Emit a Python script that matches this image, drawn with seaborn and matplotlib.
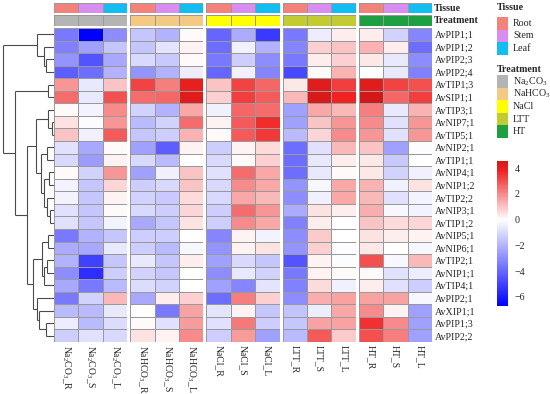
import numpy as np
import pandas as pd
import matplotlib
matplotlib.use("Agg")
import matplotlib.pyplot as plt
import matplotlib.colors as mcolors
from matplotlib.patches import Rectangle
import seaborn as sns

sns.set_theme(style="white")
plt.rcParams['font.family'] = ['Liberation Serif', 'DejaVu Serif']
plt.rcParams['mathtext.fontset'] = 'custom'
plt.rcParams['mathtext.rm'] = 'Liberation Serif'
plt.rcParams['mathtext.it'] = 'Liberation Serif:italic'

# ---- data ----
genes = ['AvPIP1;1', 'AvPIP1;2', 'AvPIP2;3', 'AvPIP2;4', 'AvTIP1;3', 'AvSIP1;1',
         'AvTIP3;1', 'AvNIP7;1', 'AvTIP5;1', 'AvNIP2;1', 'AvTIP1;1', 'AvNIP4;1',
         'AvNIP1;2', 'AvTIP2;2', 'AvNIP3;1', 'AvTIP1;2', 'AvNIP5;1', 'AvNIP6;1',
         'AvTIP2;1', 'AvNIP1;1', 'AvTIP4;1', 'AvPIP2;1', 'AvXIP1;1', 'AvPIP1;3',
         'AvPIP2;2']
tissues = ['Root', 'Stem', 'Leaf']
tissue_short = ['R', 'S', 'L']
treatments = ['Na$_2$CO$_3$', 'NaHCO$_3$', 'NaCl', 'LTT', 'HT']

# log2 fold change, columns R / S / L
na2co3 = [[-3.5, -6.7, -3.0], [-3.3, -2.5, -1.5], [-2.8, -4.5, -2.3], [-4.2, -3.8, -2.0],
          [1.8, -0.6, 1.0], [2.5, -0.6, 3.0], [0.1, -0.3, 2.0], [0.5, -0.1, 1.8],
          [1.0, -0.4, 2.8], [-0.8, -2.3, 0.1], [-1.0, -2.6, 0.2], [0.1, -1.2, 1.8],
          [-0.3, -1.5, 0.7], [-0.3, -1.5, 0.2], [-0.8, -1.5, 0.1], [-0.8, -1.5, -0.3],
          [-3.5, -2.0, -1.5], [-2.2, -2.3, -0.6], [-2.0, -5.0, -1.5], [-3.0, -5.5, -1.3],
          [-2.3, -3.5, -1.8], [-3.5, -1.2, 1.2], [-1.8, -1.8, -0.6], [-0.5, -1.8, -0.9],
          [-1.3, -0.8, -1.0]]
nahco3 = [[-1.5, -2.0, 0.1], [-1.5, -0.7, 0.2], [-1.0, -1.4, 0.1], [-2.8, -2.0, -0.5],
          [3.2, 2.2, 4.0], [2.5, 2.6, 4.2], [-1.2, -2.0, 1.5], [-1.8, -1.2, 2.5],
          [-1.5, -1.3, 1.3], [-2.5, -4.2, 0.2], [-1.0, -1.8, 0.0], [-2.5, -0.4, 1.0],
          [-1.3, -1.0, 1.0], [-1.2, -1.4, 0.6], [-1.0, -1.3, 0.7], [-2.3, -1.5, 0.5],
          [-1.3, -1.3, 0.0], [-1.3, -1.8, -0.2], [-0.6, -1.5, 0.3], [-1.2, -1.5, 0.0],
          [-0.9, -1.2, 0.0], [-2.3, 0.3, 0.8], [0.0, -3.5, 1.6], [0.1, -0.8, 1.7],
          [0.5, 0.2, 2.0]]
nacl = [[-4.0, -2.2, -5.2], [-3.8, -0.4, -2.0], [-3.5, -1.3, -3.0], [-4.0, -0.4, -3.2],
        [1.0, 3.2, 2.6], [0.8, 3.3, 2.8], [-0.4, 2.6, 2.5], [0.2, 2.8, 3.6],
        [0.1, 2.8, 3.4], [-1.3, 0.2, 0.6], [-1.0, 0.1, 0.8], [-0.8, 2.5, 1.5],
        [-1.0, 2.0, 1.5], [-1.0, 1.5, 1.2], [-1.3, 2.5, 1.8], [-1.3, 2.0, 1.5],
        [-3.2, 0.2, -0.3], [-2.8, 0.2, 0.5], [-2.5, -1.0, -1.5], [-3.0, -0.6, -1.2],
        [-2.5, -3.2, -0.7], [-3.8, 2.2, 0.8], [-0.7, 0.2, -1.5], [-0.8, 2.3, -1.3],
        [-1.3, 1.7, -2.5]]
ltt = [[-3.5, -0.5, 0.3], [-3.2, 0.8, 1.0], [-3.5, 0.3, 0.8], [-4.8, 0.1, 1.3],
       [0.4, 4.2, 3.3], [1.2, 4.4, 3.8], [-2.5, 1.5, 1.2], [-2.5, 1.0, 1.8],
       [-1.8, 0.7, 2.0], [-3.8, -0.8, 1.2], [-3.8, -0.6, 0.3], [-3.8, -0.6, 0.1],
       [-2.8, -0.2, 1.5], [-3.0, -0.4, 1.5], [-2.2, 0.5, 0.3], [-3.3, 0.3, 0.0],
       [-3.0, 0.9, 0.0], [-2.8, 0.8, -0.1], [-4.5, 0.2, -0.1], [-3.5, 0.2, 0.1],
       [-3.3, 0.6, -0.4], [-3.0, 1.4, 1.6], [-1.6, -0.5, 1.5], [-1.5, 1.6, 1.6],
       [-1.8, 2.8, 0.9]]
ht = [[0.3, -1.2, -3.2], [1.3, 0.3, -3.8], [0.4, -0.6, -3.0], [0.0, -0.6, -3.3],
      [4.2, 3.2, 3.0], [4.55, 2.6, 3.3], [2.2, -0.6, 1.3], [2.0, -0.8, 1.8],
      [1.8, -0.8, 1.8], [1.0, -2.5, -0.1], [0.4, -1.4, 0.0], [0.4, -1.2, -0.4],
      [1.3, -0.4, 0.5], [1.2, -0.8, -0.3], [1.4, -0.2, -0.3], [1.0, 0.6, 0.7],
      [0.5, 0.3, 0.2], [0.4, 0.0, -0.2], [3.0, -0.2, 1.2], [0.1, -0.8, -0.5],
      [0.3, -0.8, -1.3], [1.6, 1.6, -0.2], [2.0, 0.2, -2.5], [3.5, 2.0, -2.5],
      [3.0, 2.2, -2.5]]
groups = [na2co3, nahco3, nacl, ltt, ht]

# row clustering: (child a, child b, height); ids >= 25 are earlier merges
row_linkage = [
    (2, 3, 8.0), (1, 25, 9.7), (0, 26, 16.7),            # 25-27
    (4, 5, 6.3),                                          # 28
    (7, 8, 2.3), (6, 29, 5.7),                            # 29-30
    (9, 10, 7.3), (11, 12, 5.0), (14, 15, 4.0),           # 31-33
    (13, 33, 7.0), (32, 34, 10.0), (31, 35, 13.3),        # 34-36
    (30, 36, 18.0),                                       # 37
    (16, 17, 5.7), (18, 19, 7.0), (39, 20, 9.7),          # 38-40
    (38, 40, 11.7),                                       # 41
    (23, 24, 8.0), (22, 42, 14.7), (21, 43, 17.5),        # 42-44
    (41, 44, 21.3), (37, 45, 26.7), (28, 46, 38.7),       # 45-47
    (27, 47, 50.7),                                       # 48
]

tissue_colors = ['#F2827A', '#D78EF0', '#12BDF2']
treatment_colors = ['#B4B4B4', '#F4C983', '#FFFF00', '#C3CB32', '#1E9F42']

# ---- layout (pixels) ----
W, H = 550, 394
fig = plt.figure(figsize=(W / 100, H / 100), dpi=100)


def px_axes(left, top, width, height):
    return fig.add_axes([left / W, 1 - (top + height) / H, width / W, height / H])


HM_LEFT, HM_TOP, HM_H = 54, 28, 314
CELL_W, GAP = 24.4, 3.0
BORDER = '#999999'
FS = 7.2
FS_COL = 6.9

all_vals = np.array(groups)
vmin, vmax = all_vals.min(), all_vals.max()
stops = [(vmin, '#0000FF'), (0.0, '#FFFFFF'), (3.8, '#F02222'), (vmax, '#D41818')]
cmap = mcolors.LinearSegmentedColormap.from_list(
    'bwr_custom', [((v - vmin) / (vmax - vmin), c) for v, c in stops], N=256)
tissue_cmap = mcolors.ListedColormap(tissue_colors)
treat_cmap = mcolors.ListedColormap(treatment_colors)

mesh = None
for g, vals in enumerate(groups):
    left = HM_LEFT + g * (3 * CELL_W + GAP)
    gw = 3 * CELL_W

    ax_t = px_axes(left, 3, gw, 10.3)
    sns.heatmap(np.array([[0, 1, 2]]), ax=ax_t, cmap=tissue_cmap, vmin=-0.5, vmax=2.5,
                cbar=False, linewidths=0.6, linecolor=BORDER,
                xticklabels=False, yticklabels=False)
    ax_r = px_axes(left, 15.3, gw, 10.3)
    sns.heatmap(np.array([[g, g, g]]), ax=ax_r, cmap=treat_cmap, vmin=-0.5, vmax=4.5,
                cbar=False, linewidths=0.6, linecolor=BORDER,
                xticklabels=False, yticklabels=False)

    cols = [f"{treatments[g]}_{s}" for s in tissue_short]
    df = pd.DataFrame(vals, index=genes, columns=cols)
    ax_h = px_axes(left, HM_TOP, gw, HM_H)
    sns.heatmap(df, ax=ax_h, cmap=cmap, vmin=vmin, vmax=vmax, cbar=False,
                linewidths=0.6, linecolor=BORDER, yticklabels=(g == 4))
    ax_h.set_xticklabels(cols, rotation=270, ha='center', va='top', fontsize=FS_COL)
    ax_h.tick_params(axis='both', length=0, pad=2.5)
    if g == 4:
        ax_h.yaxis.tick_right()
        ax_h.set_yticklabels(genes, rotation=0, ha='left', fontsize=FS)
        ax_h.tick_params(axis='y', pad=2)
        ax_t.text(1.03, 0.5, 'Tissue', transform=ax_t.transAxes, ha='left',
                  va='center', fontsize=FS, fontweight='bold')
        ax_r.text(1.03, 0.5, 'Treatment', transform=ax_r.transAxes, ha='left',
                  va='center', fontsize=FS, fontweight='bold')
    ax_h.set_xlabel('')
    ax_h.set_ylabel('')
    mesh = ax_h.collections[0]

# ---- row dendrogram ----
ax_d = px_axes(0, HM_TOP, HM_LEFT, HM_H)
n = len(genes)
pos = {i: i + 0.5 for i in range(n)}
hgt = {i: 0.0 for i in range(n)}
for k, (a, b, h) in enumerate(row_linkage):
    for c in (a, b):
        ax_d.plot([hgt[c], h], [pos[c], pos[c]], color='#4a4a4a', lw=0.8,
                  solid_capstyle='butt')
    ax_d.plot([h, h], [pos[a], pos[b]], color='#4a4a4a', lw=0.8,
              solid_capstyle='butt')
    pos[n + k] = (pos[a] + pos[b]) / 2
    hgt[n + k] = h
ax_d.set_xlim(HM_LEFT, 0)
ax_d.set_ylim(n, 0)
ax_d.axis('off')

# ---- legends ----
ax_l = px_axes(490, 0, 60, H)
ax_l.set_xlim(490, 550)
ax_l.set_ylim(H, 0)
ax_l.axis('off')
SW = 12.6
ax_l.text(497, 7, 'Tissue', ha='left', va='center', fontsize=FS, fontweight='bold')
for i, (lab, col) in enumerate(zip(tissues, tissue_colors)):
    y0 = 17 + i * SW
    ax_l.add_patch(Rectangle((497, y0), 11, SW, facecolor=col, edgecolor='none'))
    ax_l.text(513, y0 + SW / 2, lab, ha='left', va='center', fontsize=FS)
ax_l.text(497, 69, 'Treatment', ha='left', va='center', fontsize=FS, fontweight='bold')
for i, (lab, col) in enumerate(zip(treatments, treatment_colors)):
    y0 = 75 + i * SW
    ax_l.add_patch(Rectangle((497, y0), 11, SW, facecolor=col, edgecolor='none'))
    ax_l.text(513, y0 + SW / 2, lab, ha='left', va='center', fontsize=FS)

cax = px_axes(497, 161, 10.5, 145)
cb = fig.colorbar(mesh, cax=cax)
cb.set_ticks([-6, -4, -2, 0, 2, 4])
cb.outline.set_visible(False)
cax.tick_params(length=0, labelsize=FS, pad=5)

fig.savefig('out.png', dpi=100)
